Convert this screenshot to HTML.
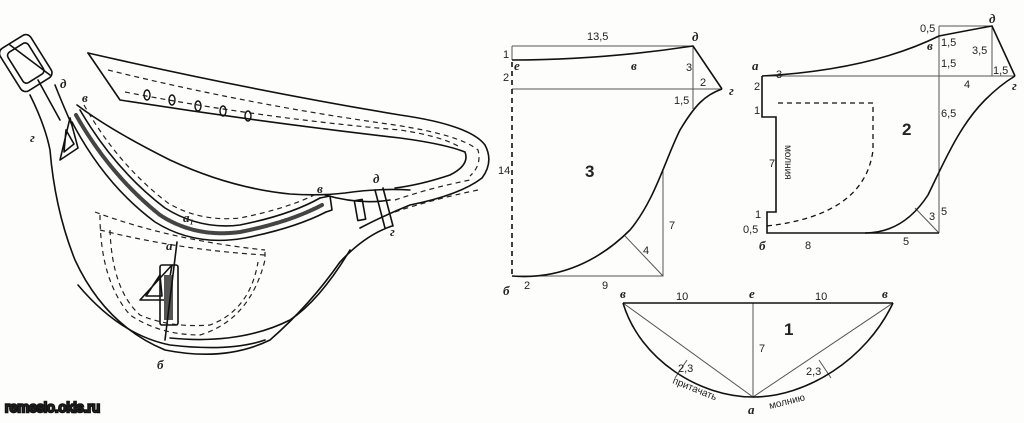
<!DOCTYPE html>
<html><head><meta charset="utf-8"><style>
html,body{margin:0;padding:0;background:#fff}
svg{display:block}
text{font-family:"Liberation Sans",sans-serif;fill:#222}
.i{font-family:"Liberation Serif",serif;font-style:italic;font-weight:bold}
</style></head><body>
<svg width="1024" height="423" viewBox="0 0 1024 423" xmlns="http://www.w3.org/2000/svg">
<rect width="1024" height="423" fill="#fdfdfb"/>
<g fill="none" stroke="#111" stroke-width="1.6" stroke-linecap="round" stroke-linejoin="round">
<!-- buckle -->
<g transform="rotate(-32 25 60)">
<rect x="6" y="38" width="36" height="50" rx="6"/>
<rect x="12" y="45" width="24" height="36" rx="4"/>
</g>
<line x1="10" y1="45" x2="50" y2="75"/>
<!-- strap left / bag outer -->
<path d="M30 95 Q45 125 50 150 Q55 210 75 260 Q105 325 165 350 Q225 362 270 340 Q310 305 340 262 Q365 235 392 226"/>
<path d="M55 85 Q65 110 72 125"/>
<path d="M38 80 L60 120"/>
<!-- bag top edge -->
<path d="M77 105 Q110 130 170 160 Q230 188 290 194 Q320 196 345 193 Q380 188 410 190"/>
<!-- upper strap -->
<path d="M88 53 Q250 90 400 115 Q470 125 485 145 Q494 162 482 178 Q460 195 410 205 Q385 215 360 228"/>
<path d="M88 53 L120 100 Q260 122 400 138 Q445 144 465 152 Q470 165 450 175 Q420 185 395 188"/>
<path d="M325 195 Q360 205 390 200"/>
<path d="M375 190 L385 228 M383 188 L393 226"/>
<rect x="356" y="200" width="8" height="20" transform="rotate(-10 360 210)"/>
<!-- zipper -->
<path d="M76 115 Q110 175 160 215 Q195 238 240 232 Q290 222 322 205" stroke="#444" stroke-width="4" stroke-dasharray="2 1"/>
<path d="M72 122 Q105 185 155 222 Q195 247 245 238 Q295 228 326 212"/>
<path d="M80 110 Q115 170 165 208 Q200 230 240 225 Q290 215 320 198"/>
<path d="M320 198 L330 196 L332 210 L326 212"/>
<!-- zipper pulls -->
<path d="M70 118 L60 160 L78 148 Z M66 130 L64 152 L74 144 Z"/>
<path d="M172 265 L140 300 L166 300 Z M160 275 L146 296 L162 296 Z"/>
<rect x="160" y="265" width="18" height="60" rx="2"/>
<rect x="164" y="275" width="9" height="45" fill="#555" stroke="none"/>
<path d="M177 242 L165 340"/>
<!-- bag bottom inner -->
<path d="M78 285 Q120 335 170 345 Q230 352 265 340"/>
<path d="M350 250 Q320 300 290 320 Q240 345 170 338"/>
</g>
<!-- dashed stitching -->
<g fill="none" stroke="#222" stroke-width="1.2" stroke-dasharray="5 4">
<path d="M108 70 Q250 105 395 125 Q460 135 478 150 Q482 165 470 176"/>
<path d="M125 92 Q260 118 400 130 Q440 136 458 146"/>
<path d="M100 215 Q100 280 130 315 Q160 335 200 335 Q250 320 265 260 L265 252"/>
<path d="M110 230 Q112 290 140 315 Q170 328 210 325 Q250 310 258 262"/>
<path d="M100 230 Q180 250 265 255"/>
<path d="M95 212 Q170 240 265 250"/>
<path d="M395 200 Q430 188 470 180"/>
<path d="M395 212 Q430 200 478 190"/>
<path d="M84 105 Q118 165 168 203 Q200 222 240 218 Q290 208 318 193"/>
</g>
<g fill="none" stroke="#111" stroke-width="1.4">
<ellipse cx="147" cy="95" rx="3" ry="5"/><ellipse cx="172" cy="100" rx="3" ry="5"/><ellipse cx="198" cy="106" rx="3" ry="5"/><ellipse cx="223" cy="111" rx="3" ry="5"/><ellipse cx="248" cy="116" rx="3" ry="5"/>
</g>
<g class="i" font-size="13">
<text x="60" y="88" class="i">д</text><text x="82" y="102" class="i">в</text><text x="30" y="142" class="i">г</text>
<text x="183" y="222" class="i">а₁</text><text x="166" y="250" class="i">а</text><text x="317" y="193" class="i">в</text>
<text x="373" y="183" class="i">д</text><text x="390" y="236" class="i">г</text><text x="157" y="369" class="i">б</text>
</g>
<!-- piece 3 -->
<g fill="none" stroke="#555" stroke-width="1">
<path d="M512 46 H693 V109 M512 89 H722 M512 276 H663 V170 M663 276 L625 236 M512 46 V60"/>
</g>
<g fill="none" stroke="#111" stroke-width="1.6">
<path d="M512 60 Q600 60 693 46 L722 89"/>
<path d="M512 276 C560 280 600 260 630 230 C655 200 665 160 680 130 C695 105 705 95 722 89"/>
<path d="M512 62 V276" stroke-dasharray="5 4"/>
</g>
<g font-size="11">
<text x="587" y="40">13,5</text><text x="503" y="58">1</text><text x="503" y="81">2</text><text x="686" y="71">3</text><text x="700" y="86">2</text><text x="674" y="104">1,5</text><text x="498" y="174">14</text><text x="669" y="229">7</text><text x="643" y="254">4</text><text x="524" y="289">2</text><text x="602" y="289">9</text>
<text x="585" y="177" font-size="17" font-weight="bold">3</text>
</g>
<g class="i" font-size="13"><text x="514" y="70" class="i">е</text><text x="631" y="70" class="i">в</text><text x="692" y="41" class="i">д</text><text x="729" y="95" class="i">г</text><text x="503" y="295" class="i">б</text></g>
<!-- piece 2 -->
<g fill="none" stroke="#555" stroke-width="1">
<path d="M939 26 H992 V76 M762 76 H1015 M939 26 V233 M939 233 L915 208"/>
</g>
<g fill="none" stroke="#111" stroke-width="1.6">
<path d="M762 76 Q870 70 939 36 Q970 30 992 26 L1015 76"/>
<path d="M762 76 V117 H776 V212 H767 V233 H939"/>
<path d="M865 233 C895 233 915 215 928 195 C945 160 960 125 985 100 C995 90 1005 82 1015 76"/>
<path d="M778 103 H873 V150 Q865 215 767 226" stroke-dasharray="5 4" stroke-width="1.3"/>
</g>
<g font-size="11">
<text x="920" y="32">0,5</text><text x="941" y="46">1,5</text><text x="972" y="54">3,5</text><text x="941" y="67">1,5</text><text x="993" y="74">1,5</text><text x="776" y="78">3</text><text x="754" y="90">2</text><text x="964" y="88">4</text><text x="754" y="114">1</text><text x="941" y="117">6,5</text><text x="769" y="167">7</text><text x="941" y="215">5</text><text x="929" y="220">3</text><text x="755" y="218">1</text><text x="743" y="233">0,5</text><text x="805" y="249">8</text><text x="903" y="245">5</text>
<text x="902" y="135" font-size="17" font-weight="bold">2</text>
<text transform="translate(785,145) rotate(90)" font-size="10">молния</text>
</g>
<g font-size="13"><text x="752" y="70" class="i">а</text><text x="927" y="50" class="i">в</text><text x="989" y="23" class="i">д</text><text x="1012" y="90" class="i">г</text><text x="759" y="250" class="i">б</text></g>
<!-- piece 1 -->
<g fill="none" stroke="#555" stroke-width="1">
<path d="M753 303 V397 M623 303 L753 397 L893 303 M687 360 L675 378 M819 360 L831 378"/>
</g>
<g fill="none" stroke="#111" stroke-width="1.6">
<path d="M623 303 H893"/>
<path d="M623 303 C640 360 700 397 753 397 C806 397 866 360 893 303"/>
</g>
<g font-size="11">
<text x="676" y="300">10</text><text x="815" y="300">10</text><text x="759" y="352">7</text><text x="678" y="372">2,3</text><text x="806" y="375">2,3</text>
<text x="784" y="335" font-size="17" font-weight="bold">1</text>
<text transform="translate(672,383) rotate(22)" font-size="10">притачать</text>
<text transform="translate(770,409) rotate(-14)" font-size="10">молнию</text>
</g>
<g font-size="13"><text x="620" y="298" class="i">в</text><text x="749" y="298" class="i">е</text><text x="882" y="298" class="i">в</text><text x="748" y="414" class="i">а</text></g>
<text x="5" y="412" font-size="14" fill="#fff" stroke="#111" stroke-width="2.4" paint-order="stroke">remeslo.okis.ru</text>
</svg>
</body></html>
